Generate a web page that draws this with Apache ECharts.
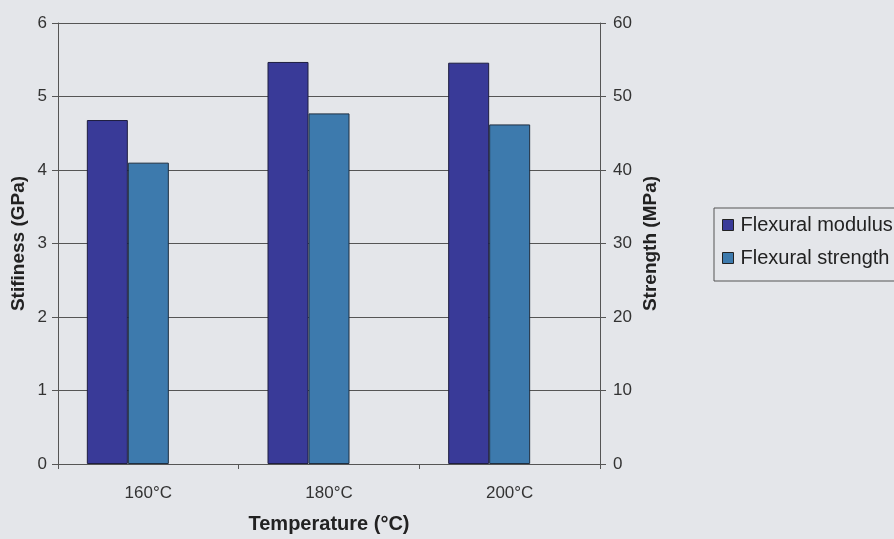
<!DOCTYPE html>
<html>
<head>
<meta charset="utf-8">
<script src="https://cdn.jsdelivr.net/npm/echarts@6/dist/echarts.min.js"></script>
<style>
html,body{margin:0;padding:0;background:#e4e6ea;}
#chart{width:894px;height:539px;}
</style>
</head>
<body>
<div id="chart"></div>
<script>
const categories = ['160°C', '180°C', '200°C'];
const modulusGPa = [4.68, 5.47, 5.46];
const strengthMPa = [41.0, 47.7, 46.2];
const placeholder = [null, null, null];
const seriesNames = ['Flexural modulus', 'Flexural strength'];

const FONT = '"Liberation Sans", Arial, sans-serif';
const chart = echarts.init(document.getElementById('chart'));
chart.setOption({
  backgroundColor: '#e4e6ea',
  animation: false,
  textStyle: { fontFamily: FONT },
  grid: { left: 58, right: 294, top: 23, bottom: 69 },
  legend: {
    data: seriesNames,
    orient: 'vertical',
    left: 714, top: 208,
    padding: [7, 10, 13, 8],
    itemGap: 13,
    itemWidth: 11, itemHeight: 11,
    icon: 'rect',
    borderColor: '#555', borderWidth: 1,
    textStyle: { fontFamily: FONT, fontSize: 20, color: '#222', padding: [0, 0, 0, 2] },
    itemStyle: { borderColor: '#222', borderWidth: 1 }
  },
  xAxis: {
    type: 'category',
    data: categories,
    boundaryGap: true,
    name: 'Temperature (°C)',
    nameLocation: 'middle',
    nameGap: 50,
    nameMoveOverlap: false,
    nameTextStyle: { fontFamily: FONT, fontSize: 20, fontWeight: 'bold', color: '#222' },
    axisLine: { lineStyle: { color: '#555', width: 1 } },
    axisTick: { show: true, length: 5, lineStyle: { color: '#555' } },
    axisLabel: { fontFamily: FONT, fontSize: 17, color: '#333', margin: 21 }
  },
  yAxis: [
    {
      type: 'value', min: 0, max: 6, interval: 1,
      name: 'Stifiness (GPa)',
      nameLocation: 'middle', nameGap: 30,
      nameMoveOverlap: false,
      nameTextStyle: { fontFamily: FONT, fontSize: 19, fontWeight: 'bold', color: '#222' },
      axisLine: { show: true, lineStyle: { color: '#555' } },
      axisTick: { show: true, length: 6, lineStyle: { color: '#555' } },
      axisLabel: { fontFamily: FONT, fontSize: 17, color: '#333', margin: 11 },
      splitLine: { show: true, lineStyle: { color: '#555', width: 1 } }
    },
    {
      type: 'value', min: 0, max: 60, interval: 10,
      name: 'Strength (MPa)',
      nameLocation: 'middle', nameGap: 41,
      nameMoveOverlap: false,
      nameTextStyle: { fontFamily: FONT, fontSize: 19, fontWeight: 'bold', color: '#222' },
      axisLine: { show: true, lineStyle: { color: '#555' } },
      axisTick: { show: true, length: 6, lineStyle: { color: '#555' } },
      axisLabel: { fontFamily: FONT, fontSize: 17, color: '#333', margin: 13 },
      splitLine: { show: false }
    }
  ],
  series: [
    {
      name: seriesNames[0], type: 'bar', yAxisIndex: 0,
      data: modulusGPa, barWidth: 41, barGap: '0%',
      itemStyle: { color: '#393a98', borderColor: '#1e1e40', borderWidth: 1 }
    },
    {
      name: seriesNames[1], type: 'bar', yAxisIndex: 1,
      data: strengthMPa, barWidth: 41, barGap: '0%',
      itemStyle: { color: '#3d7aad', borderColor: '#1e2e40', borderWidth: 1 }
    },
    {
      name: '', type: 'bar', yAxisIndex: 0,
      data: placeholder, barWidth: 41, barGap: '0%', silent: true
    }
  ]
});
</script>
</body>
</html>
